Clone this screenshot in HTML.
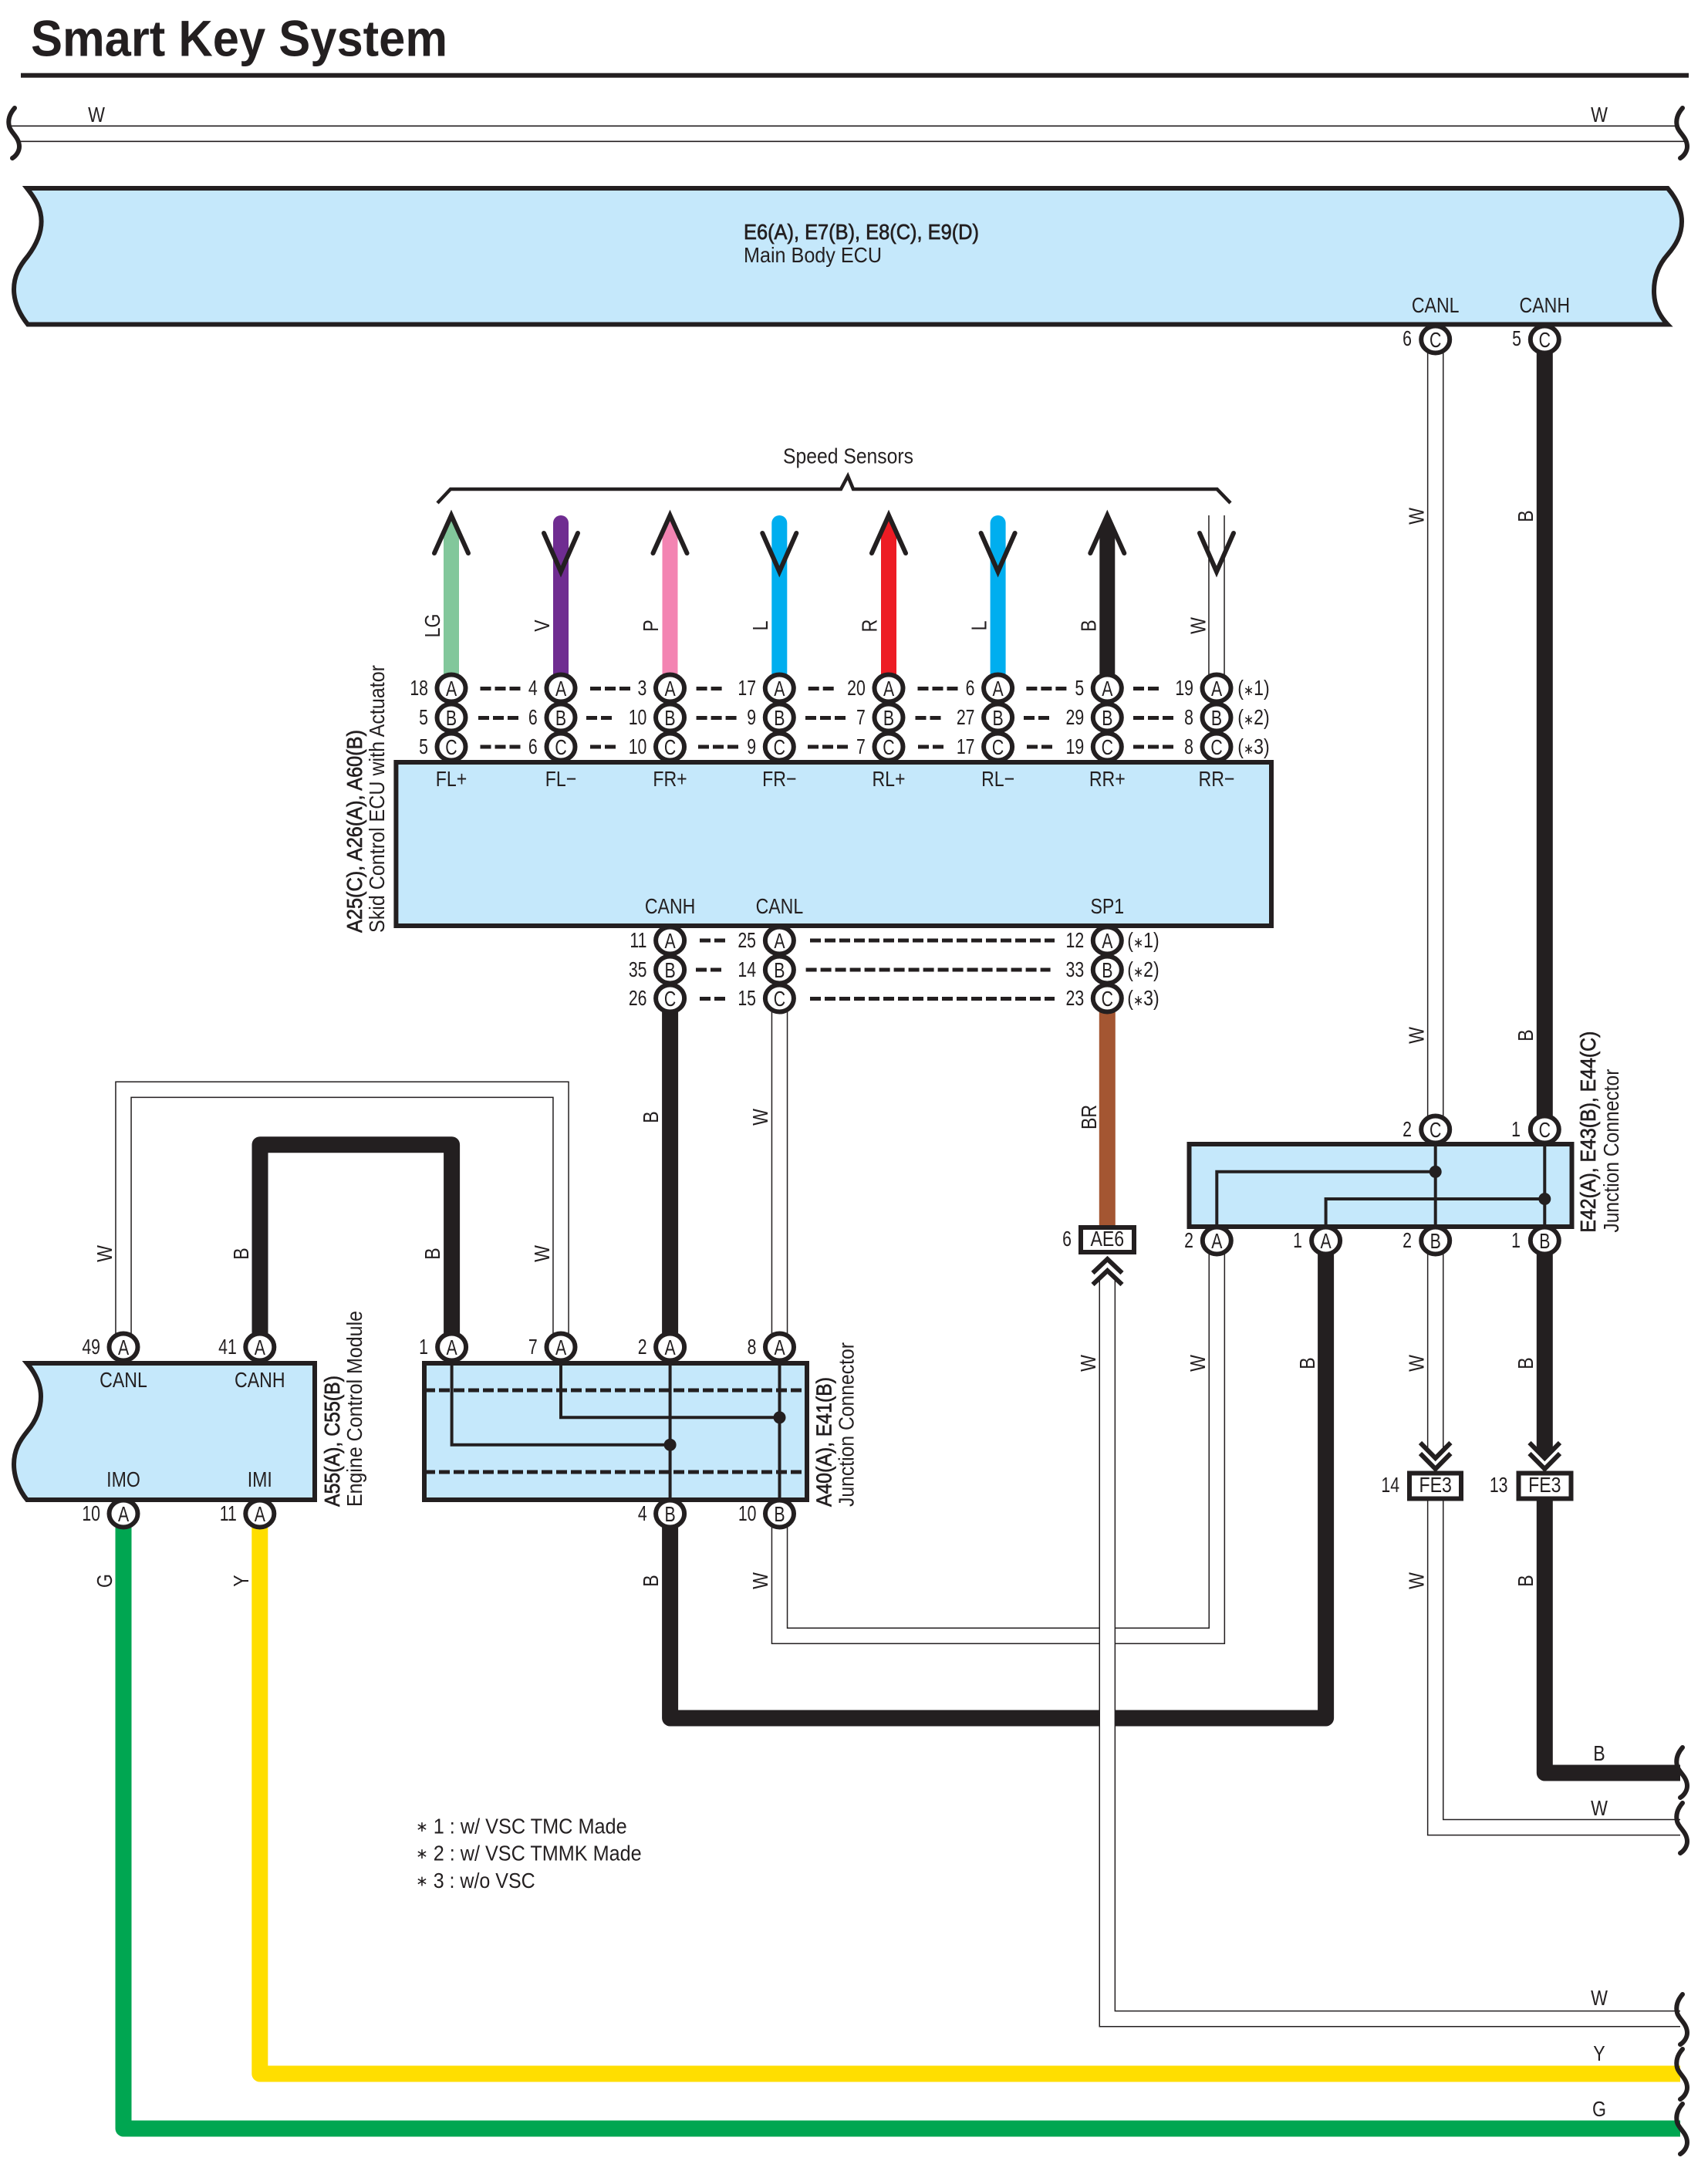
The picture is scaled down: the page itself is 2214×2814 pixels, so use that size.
<!DOCTYPE html>
<html><head><meta charset="utf-8"><title>Smart Key System</title>
<style>
html,body{margin:0;padding:0;background:#fff}
svg{display:block}
text{font-family:"Liberation Sans",sans-serif;font-size:28px;fill:#231f20}
.t,.a,.n{transform-box:fill-box}
.t{text-anchor:middle;transform-origin:center;transform:scaleX(.826)}
.a{text-anchor:middle;transform-origin:center;transform:scaleX(.76)}
.n{text-anchor:end;transform-origin:right center;transform:scaleX(.76)}
.h{stroke:#231f20;stroke-width:.7px}
.k{font-size:19px}
.c{fill:#fff;stroke:#231f20;stroke-width:6;rx:18.5px;ry:17.5px}
.b{fill:#c5e8fb;stroke:#231f20;stroke-width:6;stroke-linejoin:miter}
.w{fill:none;stroke-width:21;stroke-linejoin:round;stroke-linecap:butt}
.po{fill:none;stroke:#231f20;stroke-width:21.6}
.pi{fill:none;stroke:#fff;stroke-width:18.6}
.l{fill:none;stroke:#231f20;stroke-width:1.6}
.d{fill:none;stroke:#231f20;stroke-width:5;stroke-dasharray:14 5}
.i{fill:none;stroke:#231f20;stroke-width:4}
.s{fill:none;stroke:#231f20;stroke-width:6;stroke-linecap:round}
.v{fill:none;stroke:#231f20;stroke-width:6;stroke-linecap:round;stroke-linejoin:miter}
.r{fill:#fff;stroke:#231f20;stroke-width:6}
</style></head>
<body>
<svg xmlns="http://www.w3.org/2000/svg" width="2214" height="2814" viewBox="0 0 2214 2814">
<rect width="2214" height="2814" fill="#fff"/>

<!-- title -->
<text x="40" y="72.7" font-weight="bold" style="font-size:66px" textLength="540" lengthAdjust="spacingAndGlyphs">Smart Key System</text>
<rect x="27" y="94.7" width="2162" height="6" fill="#231f20"/>

<!-- top bus -->
<path class="l" d="M14 163.3H2174M24 183.3H2185"/>
<path class="s" d="M19 140c-7 8-9 16-7 24 2 8 13 14 13 26 0 6-4 12-9 15"/>
<path class="s" d="M2181 140c-7 8-9 16-7 24 2 8 13 14 13 26 0 6-4 12-9 15"/>
<text class="t" x="125" y="158">W</text>
<text class="t" x="2073" y="158">W</text>

<!-- colored wires -->
<path fill="#82c79b" d="M575 690L585 668L595 690V885H575Z"/>
<path class="w" stroke="#6f2c91" d="M727 885V678" style="stroke-width:20;stroke-linecap:round"/>
<path fill="#f384b2" d="M858.5 690L868.5 668L878.5 690V885H858.5Z"/>
<path class="w" stroke="#00aeef" d="M1010.3 885V678" style="stroke-width:20;stroke-linecap:round"/>
<path fill="#ed1c24" d="M1142 690L1152 668L1162 690V885H1142Z"/>
<path class="w" stroke="#00aeef" d="M1293.6 885V678" style="stroke-width:20;stroke-linecap:round"/>
<path fill="#231f20" d="M1425.3 690L1435.3 668L1445.3 690V885H1425.3Z"/>
<path class="po" d="M1577 668V885"/><path class="pi" d="M1577 668V885"/>

<path class="w" stroke="#a45632" d="M1435.3 1300V1592"/>
<path class="w" stroke="#231f20" d="M868.6 1300V1740"/>
<path class="w" stroke="#231f20" d="M2002.3 440V1470"/>
<path fill="#231f20" d="M1991.8 1600H2012.8V1880L2002.3 1890L1991.8 1880Z"/>
<path class="w" stroke="#231f20" d="M2002.3 1940V2298H2178"/>
<path class="w" stroke="#231f20" d="M337 1740V1483.7H585.6V1740"/>
<path class="w" stroke="#231f20" d="M868.6 1970V2227H1718.6V1610"/>
<path class="w" stroke="#00a651" d="M160 1965V2759H2178"/>
<path class="w" stroke="#ffde00" d="M336.8 1965V2688H2178"/>

<!-- white pair wires -->
<path class="po" d="M1860.7 440V1880"/><path class="pi" d="M1860.7 440V1880"/>
<path class="po" d="M1860.7 1940V2368.6H2178"/><path class="pi" d="M1860.7 1940V2368.6H2180"/>
<path class="po" d="M160 1730V1412.3H727V1730"/><path class="pi" d="M160 1730V1412.3H727V1730"/>
<path class="po" d="M1010.5 1300V1740"/><path class="pi" d="M1010.5 1300V1740"/>
<path class="po" d="M1010.5 1970V2120.3H1577.3V1615"/><path class="pi" d="M1010.5 1970V2120.3H1577.3V1615"/>
<path class="po" d="M1435.3 1657V2616.7H2178"/><path class="pi" d="M1435.3 1657V2616.7H2180"/>

<!-- arrows -->
<path class="v" d="M563 717L585 668L607 717"/>
<path class="v" d="M705 691L727 741L749 691"/>
<path class="v" d="M846.5 717L868.5 668L890.5 717"/>
<path class="v" d="M988.3 691L1010.3 741L1032.3 691"/>
<path class="v" d="M1130 717L1152 668L1174 717"/>
<path class="v" d="M1271.6 691L1293.6 741L1315.6 691"/>
<path class="v" d="M1413.3 717L1435.3 668L1457.3 717"/>
<path class="v" d="M1555 691L1577 741L1599 691"/>
<path fill="none" stroke="#231f20" stroke-width="4.5" d="M567 652L584 634H1090L1099 617L1106 634H1577.6L1595 652"/>
<text x="1015" y="600.7" textLength="169" lengthAdjust="spacingAndGlyphs">Speed Sensors</text>

<!-- chevrons -->
<g fill="none" stroke="#231f20" stroke-width="6">
<path d="M1416.5 1650L1435.5 1632L1454.5 1650M1416.5 1665L1435.5 1647L1454.5 1665"/>
<path d="M1841 1870L1860.7 1890L1880.4 1870M1841 1884L1860.7 1904L1880.4 1884"/>
<path d="M1982.5 1870L2002.3 1890L2022 1870M1982.5 1884L2002.3 1904L2022 1884"/>
</g>

<!-- end squiggles -->
<path class="s" d="M2181 2265c-7 8-9 16-7 24 2 8 13 14 13 26 0 6-4 12-9 15"/>
<path class="s" d="M2181 2337c-7 8-9 16-7 24 2 8 13 14 13 26 0 6-4 12-9 15"/>
<path class="s" d="M2181 2585c-7 8-9 16-7 24 2 8 13 14 13 26 0 6-4 12-9 15"/>
<path class="s" d="M2181 2656c-7 8-9 16-7 24 2 8 13 14 13 26 0 6-4 12-9 15"/>
<path class="s" d="M2181 2727c-7 8-9 16-7 24 2 8 13 14 13 26 0 6-4 12-9 15"/>

<!-- pin circles -->
<g>
<ellipse class="c" cx="585" cy="892"/><ellipse class="c" cx="585" cy="930"/><ellipse class="c" cx="585" cy="968"/>
<ellipse class="c" cx="727" cy="892"/><ellipse class="c" cx="727" cy="930"/><ellipse class="c" cx="727" cy="968"/>
<ellipse class="c" cx="868.5" cy="892"/><ellipse class="c" cx="868.5" cy="930"/><ellipse class="c" cx="868.5" cy="968"/>
<ellipse class="c" cx="1010.3" cy="892"/><ellipse class="c" cx="1010.3" cy="930"/><ellipse class="c" cx="1010.3" cy="968"/>
<ellipse class="c" cx="1152" cy="892"/><ellipse class="c" cx="1152" cy="930"/><ellipse class="c" cx="1152" cy="968"/>
<ellipse class="c" cx="1293.6" cy="892"/><ellipse class="c" cx="1293.6" cy="930"/><ellipse class="c" cx="1293.6" cy="968"/>
<ellipse class="c" cx="1435.3" cy="892"/><ellipse class="c" cx="1435.3" cy="930"/><ellipse class="c" cx="1435.3" cy="968"/>
<ellipse class="c" cx="1577" cy="892"/><ellipse class="c" cx="1577" cy="930"/><ellipse class="c" cx="1577" cy="968"/>
<ellipse class="c" cx="868.6" cy="1219"/><ellipse class="c" cx="868.6" cy="1257"/><ellipse class="c" cx="868.6" cy="1294"/>
<ellipse class="c" cx="1010.4" cy="1219"/><ellipse class="c" cx="1010.4" cy="1257"/><ellipse class="c" cx="1010.4" cy="1294"/>
<ellipse class="c" cx="1435.3" cy="1219"/><ellipse class="c" cx="1435.3" cy="1257"/><ellipse class="c" cx="1435.3" cy="1294"/>
<ellipse class="c" cx="1860.7" cy="440"/><ellipse class="c" cx="2002.3" cy="440"/>
<ellipse class="c" cx="1860.7" cy="1464"/><ellipse class="c" cx="2002.3" cy="1464"/>
<ellipse class="c" cx="1577.3" cy="1608"/><ellipse class="c" cx="1718.6" cy="1608"/><ellipse class="c" cx="1860.7" cy="1608"/><ellipse class="c" cx="2002.3" cy="1608"/>
<ellipse class="c" cx="160" cy="1746"/><ellipse class="c" cx="336.8" cy="1746"/><ellipse class="c" cx="160" cy="1962"/><ellipse class="c" cx="336.8" cy="1962"/>
<ellipse class="c" cx="585.6" cy="1746"/><ellipse class="c" cx="727" cy="1746"/><ellipse class="c" cx="868.6" cy="1746"/><ellipse class="c" cx="1010.5" cy="1746"/>
<ellipse class="c" cx="868.6" cy="1962"/><ellipse class="c" cx="1010.5" cy="1962"/>
</g>

<!-- boxes -->
<path class="b" d="M35 244C46 258 53.6 270 53.6 287C53.6 305 45 320 36 332C25 345 18 358 18 375C18 392 26 408 36 420.5H2161.7C2150 408 2144 395 2144 377C2144 358 2151 342 2161.7 330C2172 318 2180 305 2180 287C2180 270 2172 256 2161.7 244Z"/>
<rect class="b" x="513.4" y="988" width="1134.6" height="212"/>
<path class="b" d="M35 1767C46 1780 53 1795 53 1810C53 1830 44 1845 35.6 1855C25 1868 18 1880 18 1898C18 1915 25 1932 35 1944H408V1767Z"/>
<rect class="b" x="550" y="1767" width="496" height="177"/>
<rect class="b" x="1541.5" y="1483" width="496" height="107"/>
<rect class="r" x="1401" y="1591" width="69" height="32"/>
<rect class="r" x="1827" y="1909.5" width="67" height="33"/>
<rect class="r" x="1968.5" y="1909.5" width="68" height="33"/>

<!-- internals -->
<path class="d" d="M550 1802H1046M550 1908H1046"/>
<path class="i" d="M585.6 1767V1872.7H868.6M727 1767V1837.3H1010.5M868.6 1767V1944M1010.5 1767V1944"/>
<circle cx="868.6" cy="1872.7" r="8" fill="#231f20"/><circle cx="1010.5" cy="1837.3" r="8" fill="#231f20"/>
<path class="i" d="M1860.7 1483V1590M2002.3 1483V1590M1577.3 1590V1518.8H1860.7M1718.6 1590V1554H2002.3"/>
<circle cx="1860.7" cy="1518.8" r="8" fill="#231f20"/><circle cx="2002.3" cy="1554" r="8" fill="#231f20"/>

<!-- dashes -->
<path class="d" d="M622.5 892.5h53M620 930.5h53M622.5 968h53M765 892.5h53M760 930.5h34M765 968h34M902.6 892.5h34M902.6 930.5h53M905 968h53M1047.7 892.5h34M1044 930.5h53M1047 968h53M1189.5 892.5h53M1186.5 930.5h34M1190 968h34M1330.4 892.5h53M1327 930.5h34M1331 968h34M1469 892.5h34M1469 930.5h53M1469 968h53"/>
<path class="d" d="M907 1219h34M902 1257h34M907 1294.5h34M1050 1219h317M1044.6 1257h317M1050 1294.5h317"/>

<!-- pin letters -->
<g>
<text class="a" x="585" y="902">A</text><text class="a" x="585" y="940">B</text><text class="a" x="585" y="978">C</text>
<text class="a" x="727" y="902">A</text><text class="a" x="727" y="940">B</text><text class="a" x="727" y="978">C</text>
<text class="a" x="868.5" y="902">A</text><text class="a" x="868.5" y="940">B</text><text class="a" x="868.5" y="978">C</text>
<text class="a" x="1010.3" y="902">A</text><text class="a" x="1010.3" y="940">B</text><text class="a" x="1010.3" y="978">C</text>
<text class="a" x="1152" y="902">A</text><text class="a" x="1152" y="940">B</text><text class="a" x="1152" y="978">C</text>
<text class="a" x="1293.6" y="902">A</text><text class="a" x="1293.6" y="940">B</text><text class="a" x="1293.6" y="978">C</text>
<text class="a" x="1435.3" y="902">A</text><text class="a" x="1435.3" y="940">B</text><text class="a" x="1435.3" y="978">C</text>
<text class="a" x="1577" y="902">A</text><text class="a" x="1577" y="940">B</text><text class="a" x="1577" y="978">C</text>
<text class="a" x="868.6" y="1229">A</text><text class="a" x="868.6" y="1267">B</text><text class="a" x="868.6" y="1304">C</text>
<text class="a" x="1010.4" y="1229">A</text><text class="a" x="1010.4" y="1267">B</text><text class="a" x="1010.4" y="1304">C</text>
<text class="a" x="1435.3" y="1229">A</text><text class="a" x="1435.3" y="1267">B</text><text class="a" x="1435.3" y="1304">C</text>
<text class="a" x="1860.7" y="450">C</text><text class="a" x="2002.3" y="450">C</text>
<text class="a" x="1860.7" y="1474">C</text><text class="a" x="2002.3" y="1474">C</text>
<text class="a" x="1577.3" y="1618">A</text><text class="a" x="1718.6" y="1618">A</text><text class="a" x="1860.7" y="1618">B</text><text class="a" x="2002.3" y="1618">B</text>
<text class="a" x="160" y="1756">A</text><text class="a" x="336.8" y="1756">A</text><text class="a" x="160" y="1972">A</text><text class="a" x="336.8" y="1972">A</text>
<text class="a" x="585.6" y="1756">A</text><text class="a" x="727" y="1756">A</text><text class="a" x="868.6" y="1756">A</text><text class="a" x="1010.5" y="1756">A</text>
<text class="a" x="868.6" y="1972">B</text><text class="a" x="1010.5" y="1972">B</text>
</g>

<!-- pin numbers -->
<g>
<text class="n" x="555" y="901">18</text><text class="n" x="696.7" y="901">4</text><text class="n" x="838.4" y="901">3</text><text class="n" x="980.1" y="901">17</text><text class="n" x="1121.8" y="901">20</text><text class="n" x="1263.5" y="901">6</text><text class="n" x="1405.2" y="901">5</text><text class="n" x="1547" y="901">19</text>
<text class="n" x="555" y="939">5</text><text class="n" x="696.7" y="939">6</text><text class="n" x="838.4" y="939">10</text><text class="n" x="980.1" y="939">9</text><text class="n" x="1121.8" y="939">7</text><text class="n" x="1263.5" y="939">27</text><text class="n" x="1405.2" y="939">29</text><text class="n" x="1547" y="939">8</text>
<text class="n" x="555" y="977">5</text><text class="n" x="696.7" y="977">6</text><text class="n" x="838.4" y="977">10</text><text class="n" x="980.1" y="977">9</text><text class="n" x="1121.8" y="977">7</text><text class="n" x="1263.5" y="977">17</text><text class="n" x="1405.2" y="977">19</text><text class="n" x="1547" y="977">8</text>
<text class="n" x="838.5" y="1228">11</text><text class="n" x="980" y="1228">25</text><text class="n" x="1405.2" y="1228">12</text>
<text class="n" x="838.5" y="1266">35</text><text class="n" x="980" y="1266">14</text><text class="n" x="1405.2" y="1266">33</text>
<text class="n" x="838.5" y="1303">26</text><text class="n" x="980" y="1303">15</text><text class="n" x="1405.2" y="1303">23</text>
<text class="n" x="1830" y="448">6</text><text class="n" x="1972" y="448">5</text>
<text class="n" x="1830" y="1473">2</text><text class="n" x="1971" y="1473">1</text>
<text class="n" x="1547" y="1617">2</text><text class="n" x="1688" y="1617">1</text><text class="n" x="1830" y="1617">2</text><text class="n" x="1971" y="1617">1</text>
<text class="n" x="130" y="1755">49</text><text class="n" x="306.8" y="1755">41</text><text class="n" x="130" y="1971">10</text><text class="n" x="306.8" y="1971">11</text>
<text class="n" x="555" y="1755">1</text><text class="n" x="696.7" y="1755">7</text><text class="n" x="838.6" y="1755">2</text><text class="n" x="980.5" y="1755">8</text>
<text class="n" x="838.6" y="1971">4</text><text class="n" x="980.5" y="1971">10</text>
<text class="n" x="1389" y="1615">6</text><text class="n" x="1814" y="1934">14</text><text class="n" x="1954.5" y="1934">13</text>
</g>

<!-- box terminal labels -->
<g>
<text class="t" x="585" y="1019">FL+</text><text class="t" x="727" y="1019">FL−</text><text class="t" x="868.5" y="1019">FR+</text><text class="t" x="1010.3" y="1019">FR−</text><text class="t" x="1152" y="1019">RL+</text><text class="t" x="1293.6" y="1019">RL−</text><text class="t" x="1435.3" y="1019">RR+</text><text class="t" x="1577" y="1019">RR−</text>
<text class="t" x="868.6" y="1184">CANH</text><text class="t" x="1010.4" y="1184">CANL</text><text class="t" x="1435.3" y="1184">SP1</text>
<text class="t" x="1860.7" y="405">CANL</text><text class="t" x="2002.3" y="405">CANH</text>
<text class="t" x="160" y="1798">CANL</text><text class="t" x="336.8" y="1798">CANH</text><text class="t" x="160" y="1927">IMO</text><text class="t" x="336.8" y="1927">IMI</text>
<text class="t" x="1435.3" y="1615">AE6</text><text class="t" x="1860.7" y="1934">FE3</text><text class="t" x="2002.3" y="1934">FE3</text>
<text class="t" x="1625" y="901">(<tspan class="k">∗</tspan>1)</text><text class="t" x="1625" y="939">(<tspan class="k">∗</tspan>2)</text><text class="t" x="1625" y="977">(<tspan class="k">∗</tspan>3)</text>
<text class="t" x="1482" y="1228">(<tspan class="k">∗</tspan>1)</text><text class="t" x="1482" y="1266">(<tspan class="k">∗</tspan>2)</text><text class="t" x="1482" y="1303">(<tspan class="k">∗</tspan>3)</text>
</g>

<!-- main body label -->
<text class="h" x="964" y="310" textLength="305" lengthAdjust="spacingAndGlyphs">E6(A), E7(B), E8(C), E9(D)</text>
<text x="964" y="340" textLength="179" lengthAdjust="spacingAndGlyphs">Main Body ECU</text>

<!-- horizontal wire labels -->
<text class="t" x="2073" y="2282">B</text>
<text class="t" x="2073" y="2353">W</text>
<text class="t" x="2073" y="2599">W</text>
<text class="t" x="2073" y="2671">Y</text>
<text class="t" x="2073" y="2743">G</text>

<!-- vertical wire labels -->
<g transform="translate(570 811) rotate(-90)"><text class="t">LG</text></g>
<g transform="translate(712 811) rotate(-90)"><text class="t">V</text></g>
<g transform="translate(853 811) rotate(-90)"><text class="t">P</text></g>
<g transform="translate(995 811) rotate(-90)"><text class="t">L</text></g>
<g transform="translate(1136.6 811) rotate(-90)"><text class="t">R</text></g>
<g transform="translate(1278.4 811) rotate(-90)"><text class="t">L</text></g>
<g transform="translate(1420.6 811) rotate(-90)"><text class="t">B</text></g>
<g transform="translate(1562.4 811) rotate(-90)"><text class="t">W</text></g>
<g transform="translate(1845.7 669) rotate(-90)"><text class="t">W</text></g>
<g transform="translate(1987 669) rotate(-90)"><text class="t">B</text></g>
<g transform="translate(1845.7 1342) rotate(-90)"><text class="t">W</text></g>
<g transform="translate(1987 1342) rotate(-90)"><text class="t">B</text></g>
<g transform="translate(1562 1767) rotate(-90)"><text class="t">W</text></g>
<g transform="translate(1704 1767) rotate(-90)"><text class="t">B</text></g>
<g transform="translate(1845.7 1767) rotate(-90)"><text class="t">W</text></g>
<g transform="translate(1987 1767) rotate(-90)"><text class="t">B</text></g>
<g transform="translate(1845.7 2049) rotate(-90)"><text class="t">W</text></g>
<g transform="translate(1987 2049) rotate(-90)"><text class="t">B</text></g>
<g transform="translate(853 1448) rotate(-90)"><text class="t">B</text></g>
<g transform="translate(995 1448) rotate(-90)"><text class="t">W</text></g>
<g transform="translate(1421 1448) rotate(-90)"><text class="t">BR</text></g>
<g transform="translate(1420 1767) rotate(-90)"><text class="t">W</text></g>
<g transform="translate(145 1625) rotate(-90)"><text class="t">W</text></g>
<g transform="translate(322 1625) rotate(-90)"><text class="t">B</text></g>
<g transform="translate(570 1625) rotate(-90)"><text class="t">B</text></g>
<g transform="translate(712 1625) rotate(-90)"><text class="t">W</text></g>
<g transform="translate(853 2049) rotate(-90)"><text class="t">B</text></g>
<g transform="translate(995 2049) rotate(-90)"><text class="t">W</text></g>
<g transform="translate(145 2049) rotate(-90)"><text class="t">G</text></g>
<g transform="translate(322 2049) rotate(-90)"><text class="t">Y</text></g>

<!-- rotated component labels -->
<g transform="translate(469 1209) rotate(-90)"><text class="h" textLength="263" lengthAdjust="spacingAndGlyphs">A25(C), A26(A), A60(B)</text></g>
<g transform="translate(498 1209) rotate(-90)"><text textLength="347" lengthAdjust="spacingAndGlyphs">Skid Control ECU with Actuator</text></g>
<g transform="translate(440 1953) rotate(-90)"><text class="h" textLength="170" lengthAdjust="spacingAndGlyphs">A55(A), C55(B)</text></g>
<g transform="translate(469 1953) rotate(-90)"><text textLength="254" lengthAdjust="spacingAndGlyphs">Engine Control Module</text></g>
<g transform="translate(1077.7 1953) rotate(-90)"><text class="h" textLength="168" lengthAdjust="spacingAndGlyphs">A40(A), E41(B)</text></g>
<g transform="translate(1106.4 1953) rotate(-90)"><text textLength="213" lengthAdjust="spacingAndGlyphs">Junction Connector</text></g>
<g transform="translate(2068 1597.6) rotate(-90)"><text class="h" textLength="261" lengthAdjust="spacingAndGlyphs">E42(A), E43(B), E44(C)</text></g>
<g transform="translate(2097.8 1597.6) rotate(-90)"><text textLength="212" lengthAdjust="spacingAndGlyphs">Junction Connector</text></g>

<!-- footnotes -->
<text class="k" x="539" y="2374">∗</text><text x="561.7" y="2376.7" textLength="251" lengthAdjust="spacingAndGlyphs">1 : w/ VSC TMC Made</text>
<text class="k" x="539" y="2409">∗</text><text x="561.7" y="2411.7" textLength="270" lengthAdjust="spacingAndGlyphs">2 : w/ VSC TMMK Made</text>
<text class="k" x="539" y="2444.5">∗</text><text x="561.7" y="2447" textLength="132" lengthAdjust="spacingAndGlyphs">3 : w/o VSC</text>
</svg>
</body></html>
